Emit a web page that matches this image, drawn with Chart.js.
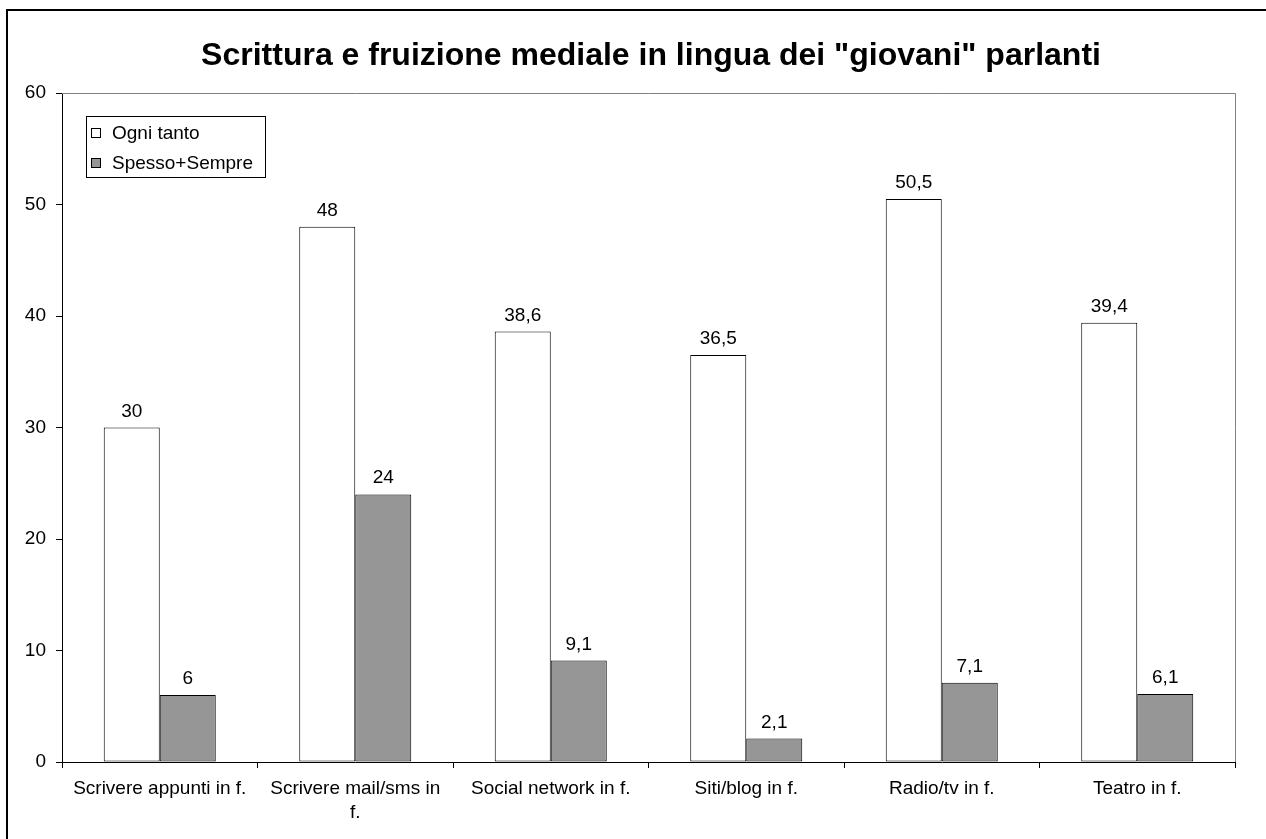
<!DOCTYPE html>
<html>
<head>
<meta charset="utf-8">
<script src="https://cdn.jsdelivr.net/npm/chart.js@4"></script>
<style>
  body { margin: 0; background: #fff; }
  #wrap { position: relative; width: 1266px; height: 839px; }
</style>
</head>
<body>
<div id="wrap"><canvas id="chart" width="1266" height="839"></canvas></div>
<script>
// dati
const categories = [
  'Scrivere appunti in f.',
  ['Scrivere mail/sms in', 'f.'],
  'Social network in f.',
  'Siti/blog in f.',
  'Radio/tv in f.',
  'Teatro in f.'
];
const ogniTanto = [30, 48, 38.6, 36.5, 50.5, 39.4];
const spessoSempre = [6, 24, 9.1, 2.1, 7.1, 6.1];
const yTicks = [0, 10, 20, 30, 40, 50, 60];

const FONT = '"Liberation Sans", Arial, sans-serif';
const GREY = '#969696';
const TXT = 19;

// cornice esterna, titolo, legenda, bordo area del grafico
const framePlugin = {
    id: 'frame',
    beforeDraw(chart) {
        const ctx = chart.ctx;
        ctx.save();
        ctx.fillStyle = '#fff';
        ctx.fillRect(0, 0, chart.width, chart.height);
        ctx.strokeStyle = '#000';
        ctx.lineWidth = 2;
        ctx.strokeRect(7, 10, 1400, 1000);
        ctx.restore();
    },
    afterDraw(chart) {
        const ctx = chart.ctx;
        const a = chart.chartArea;
        ctx.save();
        ctx.strokeStyle = '#808080';
        ctx.lineWidth = 1;
        ctx.beginPath();
        ctx.moveTo(a.left, a.top + 0.5);
        ctx.lineTo(a.right + 0.5, a.top + 0.5);
        ctx.lineTo(a.right + 0.5, a.bottom);
        ctx.stroke();
        ctx.fillStyle = '#000';
        ctx.font = 'bold 32px ' + FONT;
        ctx.textAlign = 'center';
        ctx.textBaseline = 'alphabetic';
        ctx.fillText('Scrittura e fruizione mediale in lingua dei "giovani" parlanti', 651, 65);

        // legenda
        const lx = 86, ly = 116, lw = 179, lh = 61;
        ctx.strokeStyle = '#000';
        ctx.strokeRect(lx + 0.5, ly + 0.5, lw, lh);
        ctx.font = TXT + 'px ' + FONT;
        ctx.textAlign = 'left';
        ctx.textBaseline = 'middle';
        chart.data.datasets.forEach((ds, i) => {
            const cy = ly + 17 + i * 30;
            ctx.fillStyle = ds.backgroundColor;
            ctx.fillRect(lx + 5.5, cy - 4.5, 9, 9);
            ctx.strokeRect(lx + 5.5, cy - 4.5, 9, 9);
            ctx.fillStyle = '#000';
            ctx.fillText(ds.label, lx + 26, cy + 1);
        });
        ctx.restore();
    }
};

// etichette dei valori sopra le barre
const valuePlugin = {
    id: 'values',
    afterDatasetsDraw(chart) {
        const ctx = chart.ctx;
        ctx.save();
        ctx.font = TXT + 'px ' + FONT;
        ctx.fillStyle = '#000';
        ctx.textAlign = 'center';
        ctx.textBaseline = 'alphabetic';
        chart.data.datasets.forEach((ds, i) => {
            chart.getDatasetMeta(i).data.forEach((bar, j) => {
                ctx.fillText(String(ds.data[j]).replace('.', ','), bar.x, bar.y - 11);
            });
        });
        ctx.restore();
    }
};

new Chart(document.getElementById('chart'), {
    type: 'bar',
    data: {
        labels: categories,
        datasets: [{
            label: 'Ogni tanto',
            data: ogniTanto,
            backgroundColor: '#ffffff',
            borderColor: '#000',
            borderWidth: 1,
            borderSkipped: false
        }, {
            label: 'Spesso+Sempre',
            data: spessoSempre,
            backgroundColor: GREY,
            borderColor: '#000',
            borderWidth: 1,
            borderSkipped: false
        }]
    },
    options: {
        responsive: false,
        animation: false,
        layout: { padding: { top: 93, right: 31, left: 0, bottom: 0 } },
        plugins: {
            legend: { display: false },
            title: { display: false },
            tooltip: { enabled: false }
        },
        datasets: {
            bar: { barPercentage: 1, categoryPercentage: 0.573 }
        },
        scales: {
            x: {
                afterFit: s => { s.height = 77; },
                grid: { display: true, drawOnChartArea: false, offset: true, color: '#000', tickLength: 6 },
                border: { display: true, color: '#000' },
                ticks: { color: '#000', font: { family: FONT, size: TXT, lineHeight: 1.25 }, padding: 9, maxRotation: 0, autoSkip: false }
            },
            y: {
                min: 0,
                max: 60,
                afterFit: s => { s.width = 62; },
                afterBuildTicks: s => { s.ticks = yTicks.map(v => ({ value: v })); },
                grid: { display: true, drawOnChartArea: false, color: '#000', tickLength: 6 },
                border: { display: true, color: '#000' },
                ticks: { color: '#000', font: { family: FONT, size: TXT }, padding: 10 }
            }
        }
    },
    plugins: [framePlugin, valuePlugin]
});
</script>
</body>
</html>
